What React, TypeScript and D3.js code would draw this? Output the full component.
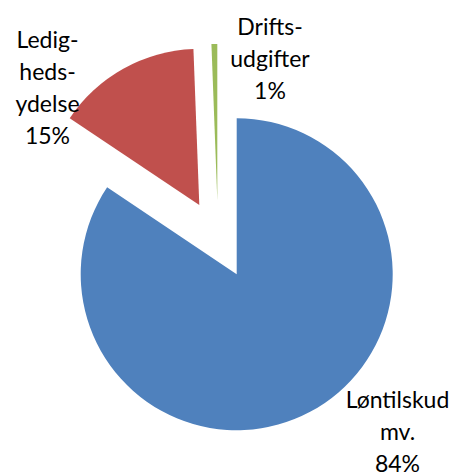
import { useMemo } from 'react';
import * as d3 from 'd3';

const WIDTH = 454;
const HEIGHT = 475;
const CENTER = { x: 236.7, y: 274.2 };
const RADIUS = 156;

// data (shares in percent)
const categories = ['Løntilskud mv.', 'Ledighedsydelse', 'Driftsudgifter'];
const shares = [84.4, 15.0, 0.6];
// how each category label is wrapped in the chart
const labelLines = [['Løntilskud', 'mv.'], ['Ledig-', 'heds-', 'ydelse'], ['Drifts-', 'udgifter']];

const COLORS = ['#4F81BD', '#C0504D', '#9BBB59'];
// explosion offset of each slice, and where its label sits (centre x, first baseline)
const OFFSETS = [[0, 0], [-37.4, -69.2], [-19.4, -74.2]];
const LABEL_POS = [[397.5, 408], [47.5, 48], [270, 35]];
const LINE_H = 32;

export default function App() {
  const slices = useMemo(() => {
    const pie = d3.pie<number>().sort(null).value((d) => d).startAngle(0).endAngle(2 * Math.PI);
    const arc = d3.arc<d3.PieArcDatum<number>>().innerRadius(0).outerRadius(RADIUS);
    const total = d3.sum(shares);
    return pie(shares).map((p, i) => ({
      d: arc(p) || '',
      color: COLORS[i],
      dx: OFFSETS[i][0],
      dy: OFFSETS[i][1],
      name: categories[i],
      lines: [...labelLines[i], `${Math.round((shares[i] / total) * 100)}%`],
      lx: LABEL_POS[i][0],
      ly: LABEL_POS[i][1],
    }));
  }, []);

  return (
    <svg
      width={WIDTH}
      height={HEIGHT}
      viewBox={`0 0 ${WIDTH} ${HEIGHT}`}
      style={{ position: 'absolute', left: 0, top: 0, background: '#fff' }}
    >
      <g transform={`translate(${CENTER.x},${CENTER.y})`}>
        {slices.map((s) => (
          <path key={s.name} d={s.d} fill={s.color} transform={`translate(${s.dx},${s.dy})`} />
        ))}
      </g>
      {slices.map((s) => (
        <text
          key={s.name}
          x={s.lx}
          y={s.ly}
          textAnchor="middle"
          fontFamily="Lato, 'Open Sans', sans-serif"
          fontSize={23}
          fill="#000"
        >
          {s.lines.map((line, j) => (
            <tspan key={j} x={s.lx} y={s.ly + j * LINE_H}>
              {line}
            </tspan>
          ))}
        </text>
      ))}
    </svg>
  );
}
